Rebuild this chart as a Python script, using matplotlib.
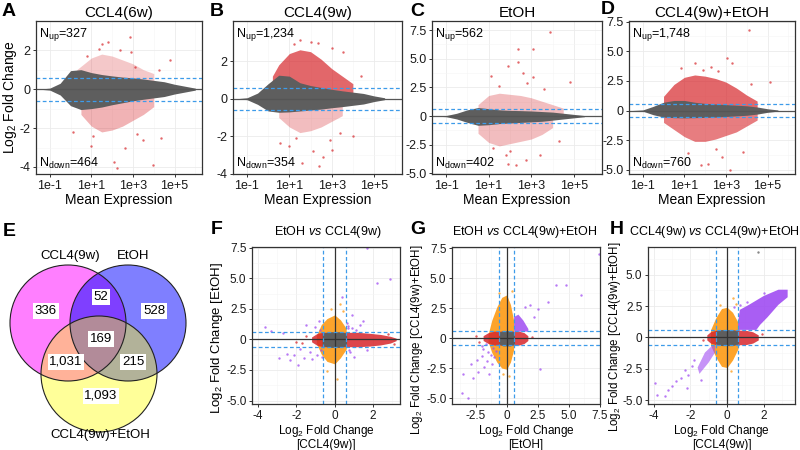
import matplotlib

matplotlib.use("Agg")
import matplotlib.pyplot as plt
import numpy as np
from matplotlib.patches import Circle
from matplotlib.ticker import NullFormatter

plt.rcParams["font.family"] = ["Liberation Sans", "DejaVu Sans"]
plt.rcParams["mathtext.fontset"] = "custom"
plt.rcParams["mathtext.rm"] = "Liberation Sans"
plt.rcParams["mathtext.it"] = "Liberation Sans:italic"
plt.rcParams["mathtext.default"] = "regular"

W, H = 800, 450
GRAY = "#5e5e5e"
RED = "#d7262b"
ORANGE = "#fd9a14"
PURPLE = "#a04cf2"
BLUE = "#3d9be9"
THR = 0.585

# ---------------- MA plots (A-D): x in log10(mean expression) ----------------
ma_titles = ["CCL4(6w)", "CCL4(9w)", "EtOH", "CCL4(9w)+EtOH"]
n_up = [327, 1234, 562, 1748]
n_down = [464, 354, 402, 760]

a_gray_x = [-1.55, -1.0, -0.5, 0.0, 0.5, 1.0, 1.5, 2.0, 2.5, 3.0, 3.5, 4.0, 4.5, 5.0, 5.5, 6.0]
a_gray_hi = [0.0, 0.05, 0.3, 0.95, 1.0, 0.85, 0.75, 0.68, 0.62, 0.58, 0.52, 0.45, 0.38, 0.25, 0.15, 0.05]
a_gray_lo = [0.0, -0.05, -0.3, -0.85, -1.05, -1.0, -0.92, -0.8, -0.7, -0.6, -0.52, -0.45, -0.38, -0.25, -0.15, -0.05]
a_up_x = [0.3, 1.0, 1.5, 2.0, 2.5, 3.0, 3.5, 4.0]
a_up_hi = [1.0, 1.6, 1.8, 1.7, 1.5, 1.3, 1.0, 0.8]
a_dn_x = [0.5, 1.0, 1.5, 2.0, 2.5, 3.0, 3.5, 4.0]
a_dn_lo = [-1.3, -1.9, -2.2, -2.1, -1.9, -1.6, -1.3, -0.9]
a_out_x = [2.85, 1.8, 1.35, 3.08, 4.26, 4.8, 4.34, 3.95, 2.22, 2.1, 0.1, 1.0, 2.6, 3.5, 1.5, 0.8,
           2.4, 3.2, 1.1, 2.9]
a_out_y = [2.68, 2.43, 2.08, 1.15, 0.97, 1.5, -2.53, -3.9, -4.07, -3.73, -2.2, -2.9, -3.0, -2.6, 2.3, 1.7,
           2.0, -2.3, -2.4, 1.9]

b_gray_x = [-1.5, -1.0, -0.5, 0.0, 0.5, 1.0, 1.5, 2.0, 2.5, 3.0, 3.5, 4.0, 4.5, 5.0, 5.5]
b_gray_hi = [0.0, 0.05, 0.3, 0.8, 1.25, 1.2, 0.85, 0.7, 0.6, 0.5, 0.42, 0.35, 0.28, 0.15, 0.05]
b_gray_lo = [0.0, -0.05, -0.3, -0.65, -0.72, -0.7, -0.65, -0.6, -0.55, -0.48, -0.42, -0.35, -0.28, -0.15, -0.05]
b_up_x = [0.2, 0.5, 1.0, 1.5, 2.0, 2.5, 3.0, 3.5, 4.0]
b_up_hi = [1.2, 1.8, 2.4, 2.6, 2.5, 2.1, 1.6, 1.2, 0.8]
b_dn_x = [0.5, 1.0, 1.5, 2.0, 2.5, 3.0, 3.5]
b_dn_lo = [-1.0, -1.5, -1.8, -1.7, -1.5, -1.2, -0.9]
b_out_x = [1.5, 2.37, 3.55, 1.2, 2.0, 3.0, 3.0, 2.6, 2.1, 1.6, 0.57, 1.0, 4.0, 4.4, 2.4, 1.3, 2.9, 3.4]
b_out_y = [3.1, 2.94, 2.5, 2.9, 3.0, 2.7, -2.7, -3.1, -2.8, -3.4, -2.37, -2.5, -2.0, 1.2, -3.6, -2.1, -2.2, -1.8]

c_gray_x = [-1.5, -1.0, -0.5, 0.0, 0.5, 1.0, 1.5, 2.0, 2.5, 3.0, 3.5, 4.0, 4.5, 5.0, 5.5]
c_gray_hi = [0.0, 0.05, 0.25, 0.55, 0.75, 0.65, 0.55, 0.5, 0.48, 0.45, 0.4, 0.35, 0.25, 0.15, 0.05]
c_gray_lo = [0.0, -0.05, -0.25, -0.55, -0.8, -0.75, -0.65, -0.6, -0.55, -0.5, -0.45, -0.35, -0.25, -0.15, -0.05]
c_up_x = [0.5, 1.0, 1.5, 2.0, 2.5, 3.0, 3.5, 4.0, 4.5]
c_up_hi = [1.0, 1.8, 2.0, 1.9, 1.8, 1.6, 1.3, 1.0, 0.7]
c_dn_x = [0.5, 1.0, 1.5, 2.0, 2.5, 3.0, 3.5, 4.0]
c_dn_lo = [-1.5, -2.3, -2.6, -2.4, -2.2, -2.0, -1.6, -1.0]
c_out_x = [3.87, 2.38, 3.08, 2.38, 1.9, 2.6, 1.1, 4.8, 3.08, 1.83, 2.77, 3.4, 1.9, 2.3, 2.8, 1.5, 2.0,
           3.6, 1.2, 4.3]
c_out_y = [7.3, 5.9, 5.9, 4.7, 4.4, 3.8, 3.5, 3.0, 3.4, -3.4, -3.8, -3.4, -4.2, -4.3, 2.9, 2.6, -3.0,
           2.4, -2.8, -2.2]

d_gray_x = [-1.55, -1.0, -0.5, 0.0, 0.5, 1.0, 1.5, 2.0, 2.5, 3.0, 3.5, 4.0, 4.5, 5.0, 5.5]
d_gray_hi = [0.0, 0.05, 0.35, 0.7, 0.85, 0.85, 0.7, 0.6, 0.55, 0.5, 0.45, 0.4, 0.3, 0.15, 0.05]
d_gray_lo = [0.0, -0.05, -0.35, -0.55, -0.6, -0.62, -0.6, -0.58, -0.55, -0.5, -0.45, -0.4, -0.3, -0.15, -0.05]
d_up_x = [0.0, 0.5, 1.0, 1.5, 2.0, 2.5, 3.0, 3.5, 4.0, 4.5]
d_up_hi = [1.2, 2.2, 2.8, 3.0, 2.9, 2.7, 2.4, 1.9, 1.3, 0.8]
d_dn_x = [0.0, 0.5, 1.0, 1.5, 2.0, 2.5, 3.0, 3.5, 4.0, 4.5]
d_dn_lo = [-1.0, -1.6, -2.2, -2.6, -2.6, -2.4, -2.1, -1.8, -1.3, -0.8]
d_out_x = [4.1, 3.05, 3.3, 1.5, 2.3, 0.84, 5.1, 2.15, 1.8, 3.2, 2.8, 3.8, 1.2, 2.5, 4.2, 1.9, 2.6]
d_out_y = [6.8, 4.4, 4.0, 4.0, 3.7, 3.55, 2.4, -4.5, -4.6, -5.05, -3.9, -3.5, -3.6, -3.2, 2.2, 3.4, 3.3]

# ---------------- Venn (E) ----------------
venn_sets = ["CCL4(9w)", "EtOH", "CCL4(9w)+EtOH"]
venn_regions = ["100", "010", "001", "110", "101", "011", "111"]
venn_counts = [336, 528, 1093, 52, 1031, 215, 169]

# ---------------- pairwise LFC scatter (F-H) ----------------
f_gray_x = [-0.65, -0.3, 0.3, 0.62]
f_gray_hi = [0.5, 0.62, 0.62, 0.5]
f_gray_lo = [-0.5, -0.65, -0.65, -0.5]
f_orange_x = [-0.95, -0.7, -0.4, 0.0, 0.3, 0.6]
f_orange_hi = [0.3, 1.2, 1.7, 2.0, 1.6, 0.9]
f_orange_lo = [-0.3, -1.2, -1.8, -2.0, -1.5, -0.8]
f_red_x = [-1.2, -0.9, -0.6, 0.6, 1.2, 1.8, 2.4, 2.9, 3.2]
f_red_hi = [0.2, 0.5, 0.58, 0.58, 0.58, 0.5, 0.4, 0.25, 0.1]
f_red_lo = [-0.2, -0.5, -0.6, -0.6, -0.6, -0.55, -0.45, -0.3, -0.1]
f_pur_x = [-3.6, -3.3, -2.9, -2.7, -2.5, -2.3, -2.1, -1.9, -1.8, -1.6, -1.5, -1.3, -1.2, -1.0, -0.9,
           -0.8, 0.7, 0.8, 0.9, 1.0, 1.1, 1.3, 1.5, 1.7, 2.2, 2.9, 1.7, 0.4, 0.9, 0.7, 0.75, -0.7,
           -0.75, 0.65, -0.65]
f_pur_y = [1.0, 0.7, -1.5, 0.5, -1.2, -1.7, -1.3, -2.1, -0.8, -1.5, 1.2, -1.0, -1.6, 1.0, -1.3,
           1.5, 1.1, -1.0, 0.9, -1.4, 0.8, 1.2, 1.5, -0.9, 4.6, 4.9, 7.5, 3.5, 2.0, 0.9, -0.9, -0.9,
           0.8, 1.3, -1.4]
f_org_x = [-0.2, 0.3, -0.4, 0.1, 0.45]
f_org_y = [2.5, 2.9, -2.6, -3.2, 2.3]
f_red_px = [-1.5, -2.0, 2.8, 3.1, -1.7]
f_red_py = [0.3, -0.2, 0.45, -0.4, -0.3]

g_gray_x = [-0.62, -0.3, 0.3, 0.62]
g_gray_hi = [0.5, 0.62, 0.62, 0.5]
g_gray_lo = [-0.5, -0.65, -0.65, -0.5]
g_orange_x = [-1.5, -1.2, -0.8, -0.4, 0.0, 0.3, 0.55]
g_orange_hi = [0.3, 1.5, 2.6, 3.4, 3.6, 2.8, 1.5]
g_orange_lo = [-0.3, -1.2, -2.0, -2.5, -2.6, -2.0, -1.0]
g_red_x = [-1.9, -1.5, -1.0, -0.6, 0.6, 1.0, 1.4, 1.7]
g_red_hi = [0.2, 0.45, 0.58, 0.58, 0.58, 0.58, 0.45, 0.2]
g_red_lo = [-0.2, -0.45, -0.58, -0.58, -0.58, -0.58, -0.45, -0.2]
g_pband_x = [0.55, 0.9, 1.3, 1.7]
g_pband_hi = [1.8, 2.0, 1.5, 0.8]
g_pband_lo = [0.58, 0.58, 0.58, 0.58]
g_pur_x = [-3.5, -3.6, -3.1, -2.7, -2.9, -2.3, -2.0, -1.8, -1.6, -1.4, -1.2, -1.9, -1.5, -1.0, -2.4,
           2.5, 2.2, 1.9, 4.0, 4.75, 6.0, 7.4, 3.3, 2.7, 1.5, -2.0, -1.7, -1.1, -0.9, -1.3]
g_pur_y = [-3.0, -4.6, -5.0, -3.3, -2.2, -2.8, -1.5, -2.4, -1.9, -3.0, -2.2, -0.9, -1.2, -1.6, -1.8,
           2.4, 1.8, 2.8, 4.4, 4.4, 3.6, 7.0, 3.0, -2.6, 2.6, -0.7, -0.5, -0.8, -1.1, -1.4]
g_org_x = [-0.6, 0.2, -0.3, 0.4]
g_org_y = [3.8, -3.2, -3.0, 3.9]
g_red_px = [-2.5, -2.2, 2.0]
g_red_py = [0.2, -0.3, 0.1]

h_gray_x = [-0.62, -0.3, 0.3, 0.62]
h_gray_hi = [0.5, 0.62, 0.62, 0.5]
h_gray_lo = [-0.5, -0.65, -0.65, -0.5]
h_orange_x = [-0.9, -0.6, -0.3, 0.0, 0.3, 0.6]
h_orange_hi = [0.6, 1.6, 2.3, 2.4, 2.0, 1.2]
h_orange_lo = [-0.6, -1.6, -2.3, -2.4, -1.8, -0.9]
h_red_x = [-1.1, -0.9, -0.6, 0.6, 1.0, 1.4, 1.7]
h_red_hi = [0.2, 0.45, 0.58, 0.58, 0.58, 0.45, 0.2]
h_red_lo = [-0.2, -0.45, -0.58, -0.58, -0.58, -0.45, -0.2]
h_poly_x = [0.6, 0.7, 1.2, 2.0, 2.8, 3.3, 3.3, 2.8, 2.2, 1.8, 1.6, 0.6]
h_poly_y = [1.2, 2.2, 2.6, 3.3, 3.8, 3.8, 3.2, 2.6, 1.6, 1.0, 0.6, 0.6]
h_poly2_x = [-0.65, -0.8, -1.2, -1.6, -1.5, -1.0, -0.65]
h_poly2_y = [-0.65, -0.65, -1.2, -2.4, -2.9, -2.0, -1.2]
h_pur_x = [-3.9, -3.8, -3.4, -3.0, -2.8, -2.5, -2.3, -2.1, -1.9, -1.8, -2.2, -1.4, -3.2, 0.7, 0.4,
           1.1, 2.0]
h_pur_y = [-3.6, -4.6, -4.7, -3.9, -3.5, -3.2, -2.6, -3.0, -2.3, -1.8, -4.0, -3.4, -4.2, 2.6, 2.4,
           2.8, 3.5]
h_org_x = [0.5, 0.2, -0.4, 0.3]
h_org_y = [2.7, -2.7, 2.6, 3.1]
h_red_px = [1.9, -1.3]
h_red_py = [0.3, -0.2]
h_gray_px = [1.7]
h_gray_py = [6.8]


def add_box(fig, left, top, right, bottom):
    return fig.add_axes([left / W, 1 - bottom / H, (right - left) / W, (bottom - top) / H])


def lfc_labels(ticks):
    return ["0" if t == 0 else (f"{t:.1f}" if isinstance(t, float) else str(t)) for t in ticks]


def style_axes(ax, xticks, xlabels, xminor, yticks, ylabels, yminor, size=9):
    ax.set_xticks(xticks)
    ax.set_xticklabels(xlabels)
    ax.set_xticks(xminor, minor=True)
    ax.set_yticks(yticks)
    ax.set_yticklabels(ylabels)
    ax.set_yticks(yminor, minor=True)
    ax.xaxis.set_minor_formatter(NullFormatter())
    ax.yaxis.set_minor_formatter(NullFormatter())
    ax.grid(True, which="major", color="#ebebeb", lw=0.6)
    ax.grid(True, which="minor", color="#f5f5f5", lw=0.4)
    ax.set_axisbelow(True)
    ax.tick_params(which="major", length=2.5, width=0.7, color="#333333", labelsize=size,
                   pad=1.5, labelcolor="#1a1a1a")
    ax.tick_params(which="minor", length=0)
    for sp in ax.spines.values():
        sp.set_color("#333333")
        sp.set_linewidth(0.9)


def draw_ma(ax, gx, ghi, glo, ux, uhi, dx, dlo, ox, oy, up_alpha, dn_alpha):
    ax.set_xscale("log")
    ax.fill_between(10.0 ** np.array(ux), 0, uhi, color=RED, alpha=up_alpha, lw=0)
    ax.fill_between(10.0 ** np.array(dx), dlo, 0, color=RED, alpha=dn_alpha, lw=0)
    ax.fill_between(10.0 ** np.array(gx), glo, ghi, color=GRAY, lw=0)
    ax.scatter(10.0 ** np.array(ox), oy, s=3, color=RED, alpha=0.7, linewidths=0)
    ax.axhline(0, color="#555555", lw=0.9)
    for y in (THR, -THR):
        ax.axhline(y, color=BLUE, lw=0.9, ls=(0, (3, 2)))


def draw_pair(ax, gray, orange, red, pts):
    ax.fill_between(orange[0], orange[2], orange[1], color=ORANGE, alpha=0.9, lw=0)
    ax.fill_between(red[0], red[2], red[1], color=RED, alpha=0.85, lw=0)
    for (px, py, col) in pts:
        ax.scatter(px, py, s=3, color=col, alpha=0.75, linewidths=0)
    ax.fill_between(gray[0], gray[2], gray[1], color=GRAY, lw=0)
    ax.axhline(0, color="#333333", lw=0.9)
    ax.axvline(0, color="#333333", lw=0.9)
    for v in (THR, -THR):
        ax.axhline(v, color=BLUE, lw=0.9, ls=(0, (3, 2)))
        ax.axvline(v, color=BLUE, lw=0.9, ls=(0, (3, 2)))


fig = plt.figure(figsize=(8, 4.5), dpi=100)

# ---- top row ----
ma_boxes = [(36, 21, 202, 174), (233, 21, 402, 174), (432, 21, 602, 174), (629, 21, 795, 174)]
ma_ylims = [(-4.36, 3.5), (-4.0, 4.13), (-5.05, 8.3), (-5.35, 7.55)]
ma_yticks = [[-4, -2, 0, 2], [-4, -2, 0, 2], [-5.0, -2.5, 0, 2.5, 5.0, 7.5], [-5.0, -2.5, 0, 2.5, 5.0, 7.5]]
ma_data = [
    (a_gray_x, a_gray_hi, a_gray_lo, a_up_x, a_up_hi, a_dn_x, a_dn_lo, a_out_x, a_out_y, 0.25, 0.35),
    (b_gray_x, b_gray_hi, b_gray_lo, b_up_x, b_up_hi, b_dn_x, b_dn_lo, b_out_x, b_out_y, 0.7, 0.3),
    (c_gray_x, c_gray_hi, c_gray_lo, c_up_x, c_up_hi, c_dn_x, c_dn_lo, c_out_x, c_out_y, 0.3, 0.3),
    (d_gray_x, d_gray_hi, d_gray_lo, d_up_x, d_up_hi, d_dn_x, d_dn_lo, d_out_x, d_out_y, 0.7, 0.6),
]
letters_top = [("A", 9, 12), ("B", 217, 12), ("C", 417, 12), ("D", 608, 9)]
for i in range(4):
    ax = add_box(fig, *ma_boxes[i])
    draw_ma(ax, *ma_data[i])
    ax.set_xlim(10 ** -1.66, 10 ** 6.32)
    ax.set_ylim(*ma_ylims[i])
    yt = ma_yticks[i]
    style_axes(ax, [1e-1, 1e1, 1e3, 1e5], ["1e-1", "1e+1", "1e+3", "1e+5"], [1, 1e2, 1e4, 1e6],
               yt, lfc_labels(yt), [(a + b) / 2 for a, b in zip(yt[:-1], yt[1:])])
    ax.set_title(ma_titles[i], fontsize=11, pad=3)
    ax.set_xlabel("Mean Expression", fontsize=10, labelpad=1)
    if i == 0:
        ax.set_ylabel("Log$_2$ Fold Change", fontsize=10, labelpad=0)
    ax.text(0.02, 0.915, f"N$_{{up}}$={n_up[i]:,}", transform=ax.transAxes, fontsize=9, va="center")
    ax.text(0.02, 0.072, f"N$_{{down}}$={n_down[i]:,}", transform=ax.transAxes, fontsize=9, va="center")
    letter, lx, ly = letters_top[i]
    fig.text(lx / W, 1 - ly / H, letter, fontsize=14, fontweight="bold", ha="center", va="center")

# ---- Venn ----
ax_e = fig.add_axes([0, 0, 200 / W, 210 / H])
ax_e.set_xlim(0, 200)
ax_e.set_ylim(450, 240)
ax_e.axis("off")
circ = [((68, 323), "#ff00ff", 0.5), ((128, 323), "#0000ff", 0.5), ((99, 374), "#ffff00", 0.4)]
for (c, col, al) in circ:
    ax_e.add_patch(Circle(c, 58, fc=col, alpha=al, ec="none"))
for (c, col, al) in circ:
    ax_e.add_patch(Circle(c, 58, fc="none", ec="#222222", lw=0.8))
region_pos = {"100": (46, 311), "010": (154, 311), "001": (101, 396), "110": (101, 297),
              "101": (66, 362), "011": (133, 362), "111": (101, 339)}
for reg, cnt in zip(venn_regions, venn_counts):
    x, y = region_pos[reg]
    ax_e.text(x, y, f"{cnt:,}", ha="center", va="center", fontsize=9.5,
              bbox=dict(boxstyle="square,pad=0.12", fc="white", ec="none"))
for name, (x, y) in zip(venn_sets, [(70, 256), (133, 256), (100, 435)]):
    ax_e.text(x, y, name, ha="center", va="center", fontsize=9.5)
fig.text(9.5 / W, 1 - 231 / H, "E", fontsize=14, fontweight="bold", ha="center", va="center")

# ---- bottom scatter panels ----
lfc_y = [-5.0, -2.5, 0, 2.5, 5.0, 7.5]

ax = add_box(fig, 252, 247, 400, 404)
draw_pair(ax, (f_gray_x, f_gray_hi, f_gray_lo), (f_orange_x, f_orange_hi, f_orange_lo),
          (f_red_x, f_red_hi, f_red_lo),
          [(f_org_x, f_org_y, ORANGE), (f_red_px, f_red_py, RED), (f_pur_x, f_pur_y, PURPLE)])
ax.set_xlim(-4.3, 3.4)
ax.set_ylim(-5.28, 7.55)
style_axes(ax, [-4, -2, 0, 2], ["-4", "-2", "0", "2"], [-3, -1, 1, 3], lfc_y, lfc_labels(lfc_y),
           [-3.75, -1.25, 1.25, 3.75, 6.25], size=8.5)
ax.set_xlabel("Log$_2$ Fold Change\n[CCL4(9w)]", fontsize=8.5, labelpad=1, linespacing=1.0)
ax.set_ylabel("Log$_2$ Fold Change [EtOH]", fontsize=9.5, labelpad=1)
ax.yaxis.label.set_y(0.42)

ax = add_box(fig, 452, 247, 600, 404)
ax.fill_between(g_pband_x, g_pband_lo, g_pband_hi, color=PURPLE, alpha=0.85, lw=0, zorder=2)
draw_pair(ax, (g_gray_x, g_gray_hi, g_gray_lo), (g_orange_x, g_orange_hi, g_orange_lo),
          (g_red_x, g_red_hi, g_red_lo),
          [(g_org_x, g_org_y, ORANGE), (g_red_px, g_red_py, RED), (g_pur_x, g_pur_y, PURPLE)])
ax.set_xlim(-4.4, 7.4)
ax.set_ylim(-5.5, 7.6)
gx_t = [-2.5, 0, 2.5, 5.0, 7.5]
style_axes(ax, gx_t, lfc_labels(gx_t), [-3.75, -1.25, 1.25, 3.75, 6.25], lfc_y, lfc_labels(lfc_y),
           [-3.75, -1.25, 1.25, 3.75, 6.25], size=8.5)
ax.set_xlabel("Log$_2$ Fold Change\n[EtOH]", fontsize=8.5, labelpad=1, linespacing=1.0)
ax.set_ylabel("Log$_2$ Fold Change [CCL4(9w)+EtOH]", fontsize=8.3, labelpad=1)
ax.yaxis.label.set_y(0.41)

ax = add_box(fig, 648, 247, 795, 404)
ax.fill(h_poly_x, h_poly_y, color=PURPLE, alpha=0.9, lw=0, zorder=2)
ax.fill(h_poly2_x, h_poly2_y, color=PURPLE, alpha=0.6, lw=0, zorder=2)
draw_pair(ax, (h_gray_x, h_gray_hi, h_gray_lo), (h_orange_x, h_orange_hi, h_orange_lo),
          (h_red_x, h_red_hi, h_red_lo),
          [(h_org_x, h_org_y, ORANGE), (h_red_px, h_red_py, RED), (h_pur_x, h_pur_y, PURPLE),
           (h_gray_px, h_gray_py, GRAY)])
ax.set_xlim(-4.3, 3.7)
ax.set_ylim(-5.3, 7.2)
hy_t = [-5.0, -2.5, 0, 2.5, 5.0]
style_axes(ax, [-4, -2, 0, 2], ["-4", "-2", "0", "2"], [-3, -1, 1, 3], hy_t, lfc_labels(hy_t),
           [-3.75, -1.25, 1.25, 3.75, 6.25], size=8.5)
ax.set_xlabel("Log$_2$ Fold Change\n[CCL4(9w)]", fontsize=8.5, labelpad=1, linespacing=1.0)
ax.set_ylabel("Log$_2$ Fold Change [CCL4(9w)+EtOH]", fontsize=8.3, labelpad=-1)
ax.yaxis.label.set_y(0.43)

pair_titles = [("F", 217, "EtOH $\\mathit{vs}$ CCL4(9w)", 328),
               ("G", 418, "EtOH $\\mathit{vs}$ CCL4(9w)+EtOH", 525),
               ("H", 617, "CCL4(9w) $\\mathit{vs}$ CCL4(9w)+EtOH", 714)]
for letter, lx, title, tx in pair_titles:
    fig.text(lx / W, 1 - 230 / H, letter, fontsize=14, fontweight="bold", ha="center", va="center")
    fig.text(tx / W, 1 - 232 / H, title, fontsize=9, ha="center", va="center")

fig.savefig("out.png", dpi=100)
plt.close(fig)
